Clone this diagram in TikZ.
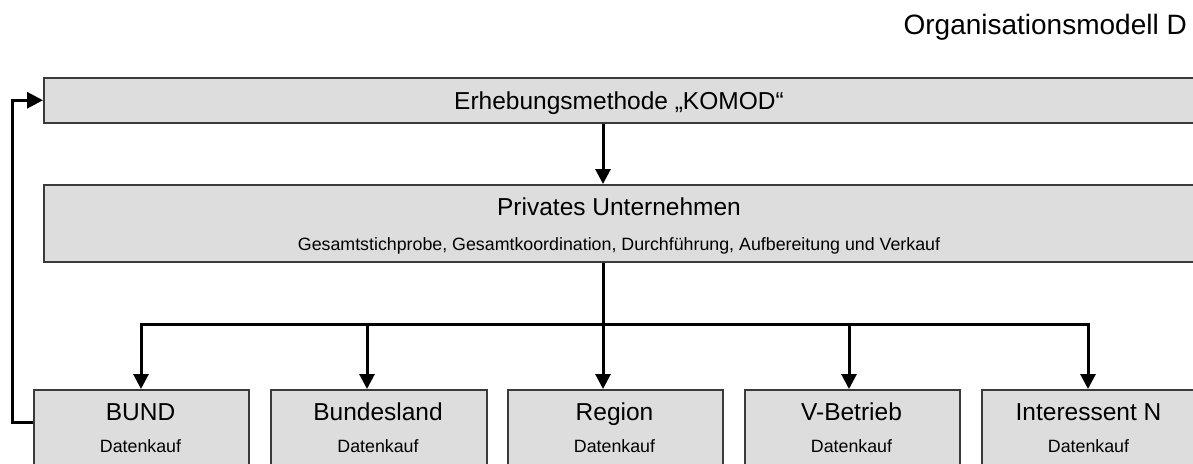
\documentclass[tikz,border=0pt]{standalone}
\usepackage{fontspec}
\setmainfont{Liberation Sans}
\usetikzlibrary{arrows.meta}
\definecolor{boxfill}{HTML}{DDDDDD}
\definecolor{boxline}{HTML}{3A3A3A}
\tikzset{
  orgbox/.style={draw=boxline, line width=1.5pt, fill=boxfill, rectangle, inner sep=0pt},
  bigtxt/.style={font=\fontsize{24.5}{28}\selectfont, inner sep=0pt, anchor=base},
  smalltxt/.style={font=\fontsize{17.8}{20}\selectfont, inner sep=0pt, anchor=base},
  conn/.style={line width=3pt, line cap=rect},
  arr/.style={line width=3pt, -{Triangle[length=15pt,width=15pt]}},
}
\begin{document}
\begin{tikzpicture}[x=1pt,y=-1pt]
\useasboundingbox (0,0) rectangle (1193,463);
\clip (0,0) rectangle (1193,463);
% title
\node[anchor=base east, font=\fontsize{28}{32}\selectfont, inner sep=0pt] (title) at (1187,34) {Organisationsmodell D};
% top box
\node[orgbox, anchor=north west, minimum width=1152pt, minimum height=45pt] (top) at (43,77) {};
\node[bigtxt] (toptxt) at (619,109) {Erhebungsmethode „KOMOD“};
% private company
\node[orgbox, anchor=north west, minimum width=1152pt, minimum height=77pt] (priv) at (43,184) {};
\node[bigtxt] (privtxt) at (619,215) {Privates Unternehmen};
\node[smalltxt] (privsub) at (619,250) {Gesamtstichprobe, Gesamtkoordination, Durchführung, Aufbereitung und Verkauf};
% bottom boxes
\node[orgbox, anchor=north west, minimum width=215pt, minimum height=90pt] (bund) at (33,389) {};
\node[orgbox, anchor=north west, minimum width=216pt, minimum height=90pt] (land) at (270,389) {};
\node[orgbox, anchor=north west, minimum width=215pt, minimum height=90pt] (reg) at (507,389) {};
\node[orgbox, anchor=north west, minimum width=215pt, minimum height=90pt] (vbet) at (744,389) {};
\node[orgbox, anchor=north west, minimum width=215pt, minimum height=90pt] (inter) at (981,389) {};
\node[bigtxt] (bundt) at (140.5,420) {BUND};
\node[smalltxt] (bundd) at (140.5,452) {Datenkauf};
\node[bigtxt] (landt) at (378,420) {Bundesland};
\node[smalltxt] (landd) at (378,452) {Datenkauf};
\node[bigtxt] (regt) at (614.5,420) {Region};
\node[smalltxt] (regd) at (614.5,452) {Datenkauf};
\node[bigtxt] (vbett) at (851.5,420) {V-Betrieb};
\node[smalltxt] (vbetd) at (851.5,452) {Datenkauf};
\node[bigtxt] (intert) at (1088.5,420) {Interessent N};
\node[smalltxt] (interd) at (1088.5,452) {Datenkauf};
% connectors
\coordinate (hl) at (141,324);
\coordinate (hr) at (1088,324);
\coordinate (hm) at (603,324);
\coordinate (h2) at (367,324);
\coordinate (h4) at (849,324);
\draw[arr] (hm |- top.south) -- (hm |- priv.north);
\draw[conn] (hl) -- (hr);
\draw[arr] (hm |- priv.south) -- (hm |- reg.north);
\draw[arr] (hl) -- (hl |- bund.north);
\draw[arr] (h2) -- (h2 |- land.north);
\draw[arr] (h4) -- (h4 |- vbet.north);
\draw[arr] (hr) -- (hr |- inter.north);
% feedback
\coordinate (fbx) at (12,0);
\draw[line width=3pt, -{Triangle[length=16pt,width=16pt]}] (bund.west |- 0,422) -- (fbx |- 0,422) -- (fbx |- top.west) -- (top.west);
\end{tikzpicture}
\end{document}
